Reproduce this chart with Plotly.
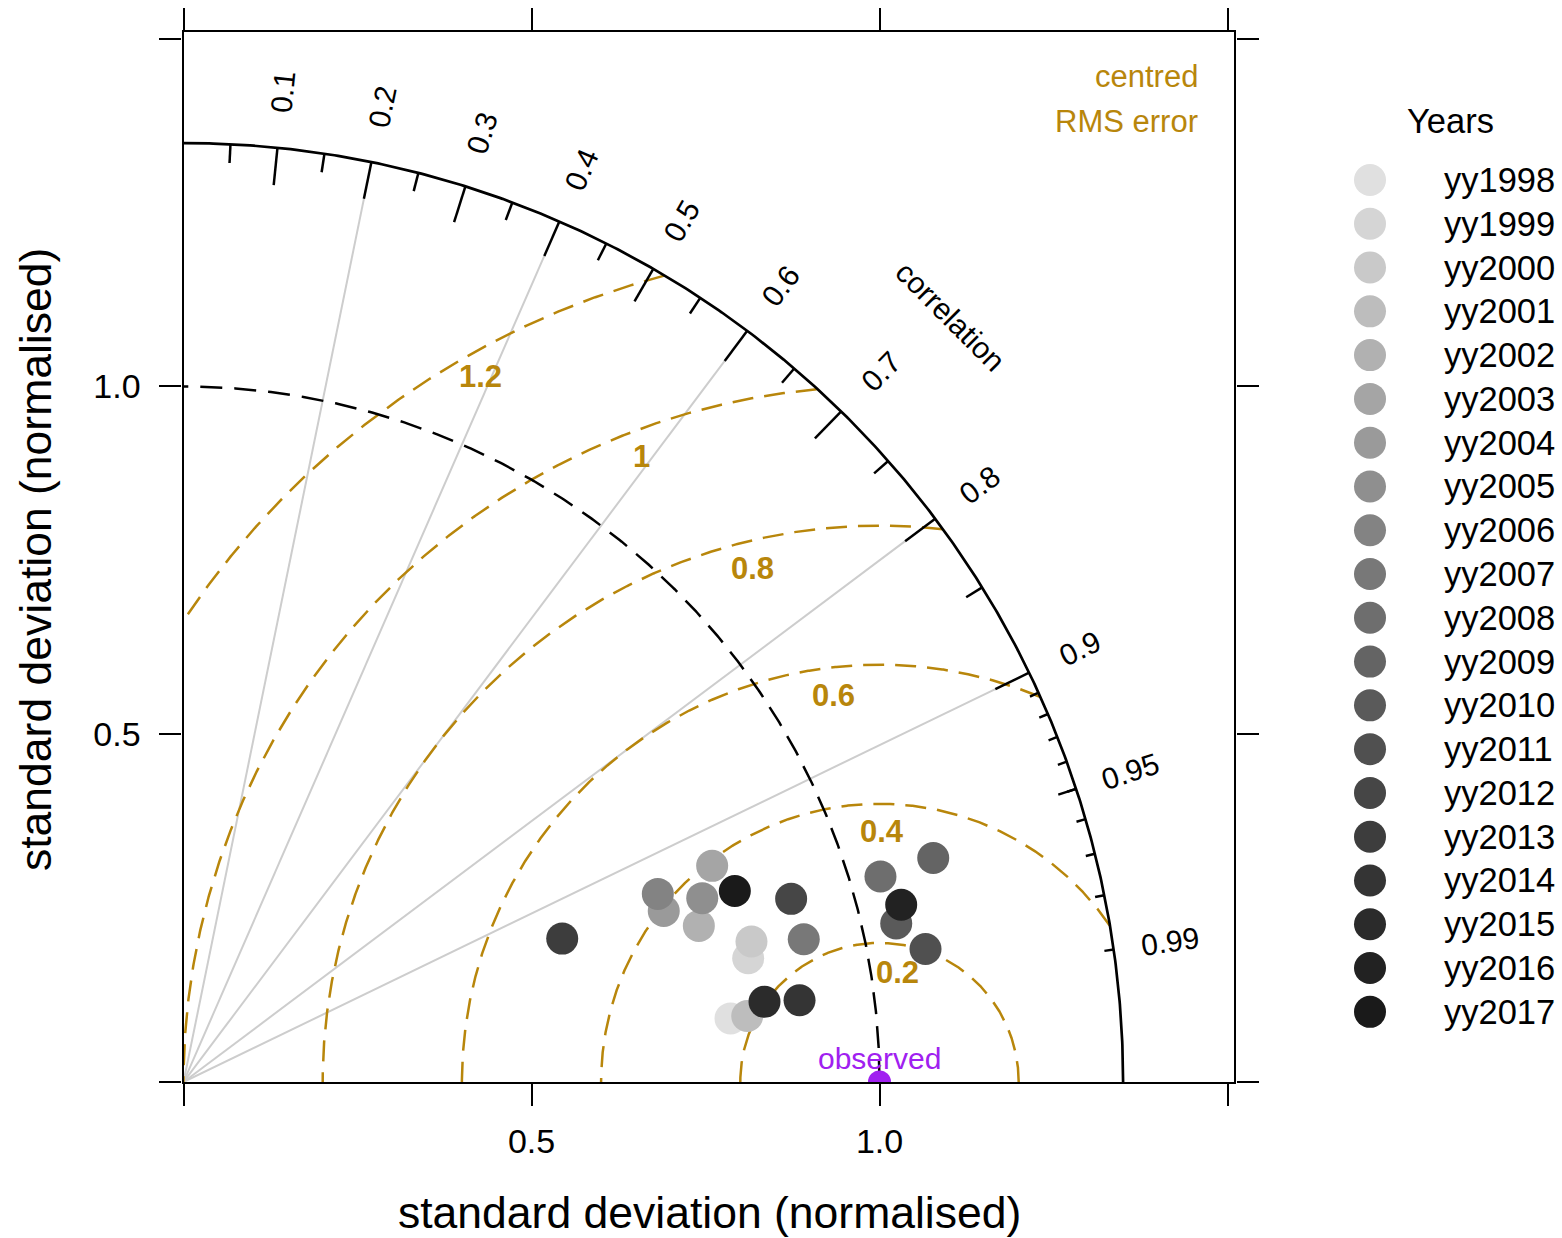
import numpy as np
import plotly.graph_objects as go

# ---------------- data ----------------
years = ["yy1998", "yy1999", "yy2000", "yy2001", "yy2002", "yy2003", "yy2004",
         "yy2005", "yy2006", "yy2007", "yy2008", "yy2009", "yy2010", "yy2011",
         "yy2012", "yy2013", "yy2014", "yy2015", "yy2016", "yy2017"]
sd_norm = [0.7913, 0.8306, 0.8407, 0.8155, 0.7737, 0.8207, 0.7325, 0.7908, 0.7332, 0.9145,
           1.0441, 1.1243, 1.0491, 1.0831, 0.9119, 0.5819, 0.8929, 0.8427, 1.0622, 0.8384]
correlation = [0.9933, 0.9768, 0.9707, 0.9932, 0.9570, 0.9255, 0.9420, 0.9425, 0.9295, 0.9745,
               0.9591, 0.9581, 0.9761, 0.9843, 0.9574, 0.9351, 0.9913, 0.9906, 0.9708, 0.9448]
observed_sd = 1.0
max_sd = 1.35
corr_grid = [0.2, 0.4, 0.6, 0.8, 0.9]
corr_big_ticks = [0.1, 0.2, 0.3, 0.4, 0.5, 0.6, 0.7, 0.8, 0.9]
corr_mid_ticks = [0.05, 0.15, 0.25, 0.35, 0.45, 0.55, 0.65, 0.75, 0.85, 0.95]
corr_small_ticks = [0.91, 0.92, 0.93, 0.94, 0.95, 0.96, 0.97, 0.98, 0.99]
corr_tick_labels = [0.1, 0.2, 0.3, 0.4, 0.5, 0.6, 0.7, 0.8, 0.9, 0.95, 0.99]
rms_levels = [0.2, 0.4, 0.6, 0.8, 1.0, 1.2]
rms_level_text = ["0.2", "0.4", "0.6", "0.8", "1", "1.2"]
axis_tickvals = [0, 0.5, 1.0, 1.5]
axis_ticktext = ["", "0.5", "1.0", ""]

# ---------------- styles ----------------
year_colors = ["#e0e0e0", "#d5d5d5", "#c9c9c9", "#bdbdbd", "#b1b1b1", "#a5a5a5", "#9a9a9a",
               "#8f8f8f", "#838383", "#787878", "#6e6e6e", "#646464", "#5a5a5a", "#505050",
               "#464646", "#3d3d3d", "#343434", "#2b2b2b", "#222222", "#1a1a1a"]
rms_label_angles = [82.5, 89.4, 96.3, 103.2, 110.0, 118.5]
GOLD = "#B8860B"
PURPLE = "#A020F0"
FONT = "Liberation Sans, Arial, Helvetica, sans-serif"

W, H = 1562, 1238
PX0, PY0 = 183.5, 1082.0
SX, SY = 696.0, 695.5
RANGE = 1.51

x_dom = [PX0 / W, (PX0 + SX * RANGE) / W]
y_dom = [(H - PY0) / H, (H - (PY0 - SY * RANGE)) / H]

fig = go.Figure()


def seg_trace(xs, ys, color, width, dash="solid"):
    fig.add_trace(go.Scatter(x=xs, y=ys, mode="lines", hoverinfo="skip",
                             line=dict(color=color, width=width, dash=dash),
                             xaxis="x", yaxis="y", showlegend=False))


# correlation grid lines
gx, gy = [], []
for c in corr_grid:
    a = np.arccos(c)
    gx += [0, 0.96 * max_sd * np.cos(a), None]
    gy += [0, 0.96 * max_sd * np.sin(a), None]
seg_trace(gx, gy, "#cdcdcd", 2.0)

# centred RMS error arcs (clipped to the diagram)
theta = np.linspace(0, np.pi, 1200)
for g in rms_levels:
    xc = observed_sd + g * np.cos(theta)
    yc = g * np.sin(theta)
    keep = (xc >= 0) & (xc ** 2 + yc ** 2 <= max_sd ** 2)
    seg_trace(xc[keep], yc[keep], GOLD, 2.5, "21px,11px")

# observed standard deviation arc
q = np.linspace(0, np.pi / 2, 400)
seg_trace(observed_sd * np.cos(q), observed_sd * np.sin(q), "black", 2.5, "22px,12px")

# outer arc
seg_trace(max_sd * np.cos(q), max_sd * np.sin(q), "black", 2.7)

# ticks on the correlation arc
tx, ty = [], []
for vals, inner in ((corr_big_ticks, 0.96), (corr_mid_ticks, 0.98), (corr_small_ticks, 0.99)):
    for c in vals:
        a = np.arccos(c)
        tx += [inner * max_sd * np.cos(a), max_sd * np.cos(a), None]
        ty += [inner * max_sd * np.sin(a), max_sd * np.sin(a), None]
seg_trace(tx, ty, "black", 2.5)

# data points
sd_arr = np.array(sd_norm)
r_arr = np.array(correlation)
fig.add_trace(go.Scatter(
    x=sd_arr * r_arr, y=sd_arr * np.sqrt(1 - r_arr ** 2), mode="markers",
    marker=dict(size=32, color=year_colors, line=dict(width=0)),
    text=years, xaxis="x", yaxis="y", showlegend=False))

# observed point
fig.add_trace(go.Scatter(x=[observed_sd], y=[0], mode="markers",
                         marker=dict(size=23, color=PURPLE), xaxis="x", yaxis="y",
                         showlegend=False))

# legend (drawn on a pixel-space overlay axis)
LEG_Y0, LEG_DY = 180.0, 43.78
leg_y = [LEG_Y0 + LEG_DY * i for i in range(len(years))]
fig.add_trace(go.Scatter(x=[1370] * len(years), y=leg_y, mode="markers",
                         marker=dict(size=32, color=year_colors), xaxis="x2", yaxis="y2",
                         showlegend=False, cliponaxis=False))

ann = []
for yv, lab in zip(leg_y, years):
    ann.append(dict(x=1442, y=yv, xref="x2", yref="y2", text=lab, showarrow=False,
                    xanchor="left", yanchor="middle", font=dict(size=34.5, color="black")))
ann.append(dict(x=1405, y=121, xref="x2", yref="y2", text="Years", showarrow=False,
                xanchor="left", yanchor="middle", font=dict(size=34.5, color="black")))

# correlation labels
for c in corr_tick_labels:
    a = np.arccos(c)
    ann.append(dict(x=1.06 * max_sd * np.cos(a), y=1.06 * max_sd * np.sin(a), xref="x", yref="y",
                    text=f"{c:g}", showarrow=False, textangle=-np.degrees(a),
                    xanchor="center", yanchor="middle", font=dict(size=30, color="black")))
ann.append(dict(x=1.102, y=1.100, xref="x", yref="y", text="correlation", showarrow=False,
                textangle=45, font=dict(size=30, color="black")))

# RMS labels
for g, t, ang in zip(rms_levels, rms_level_text, rms_label_angles):
    a = np.radians(ang)
    ann.append(dict(x=observed_sd + g * np.cos(a), y=g * np.sin(a), xref="x", yref="y",
                    text=f"<b>{t}</b>", showarrow=False, yshift=-28,
                    font=dict(size=31, color=GOLD)))
ann.append(dict(x=1200, y=76, xref="x2", yref="y2", text="centred", showarrow=False,
                xanchor="right", yanchor="middle", font=dict(size=31, color=GOLD)))
ann.append(dict(x=1200, y=121, xref="x2", yref="y2", text="RMS error", showarrow=False,
                xanchor="right", yanchor="middle", font=dict(size=31, color=GOLD)))
ann.append(dict(x=observed_sd, y=0, xref="x", yref="y", text="observed", showarrow=False,
                yshift=24, font=dict(size=30, color=PURPLE)))

# axis titles
ann.append(dict(x=709.5, y=1212, xref="x2", yref="y2", text="standard deviation (normalised)",
                showarrow=False, font=dict(size=44.5, color="black")))
ann.append(dict(x=35, y=560, xref="x2", yref="y2", text="standard deviation (normalised)",
                showarrow=False, textangle=-90, font=dict(size=44.5, color="black")))

axis_common = dict(range=[0, RANGE], tickvals=axis_tickvals, ticktext=axis_ticktext,
                   ticks="outside", ticklen=22, tickwidth=2.2, tickcolor="black",
                   showline=True, linecolor="black", linewidth=2.2, mirror="ticks",
                   showgrid=False, zeroline=False, tickfont=dict(size=34, color="black"),
                   fixedrange=True)

fig.update_layout(
    width=W, height=H, margin=dict(l=0, r=0, t=0, b=0),
    paper_bgcolor="white", plot_bgcolor="rgba(0,0,0,0)",
    font=dict(family=FONT, color="black"),
    showlegend=False,
    xaxis=dict(domain=x_dom, anchor="y", ticklabelstandoff=6, **axis_common),
    yaxis=dict(domain=y_dom, anchor="x", ticklabelstandoff=12, **axis_common),
    xaxis2=dict(domain=[0, 1], range=[0, W], visible=False, anchor="y2", fixedrange=True),
    yaxis2=dict(domain=[0, 1], range=[H, 0], visible=False, anchor="x2", fixedrange=True),
    annotations=ann,
)

fig.write_html("out.html")
